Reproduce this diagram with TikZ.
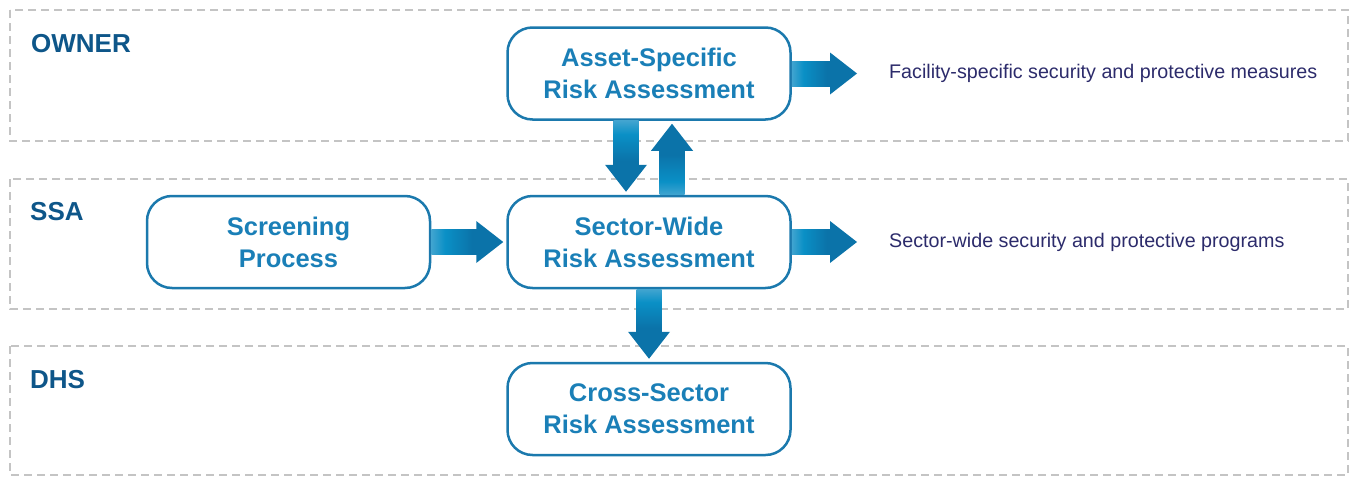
\documentclass[tikz,border=0pt]{standalone}
\usepackage{fontspec}
\setmainfont{Liberation Sans}

\definecolor{lanegray}{HTML}{C4C4C4}
\definecolor{labelblue}{HTML}{0E5689}
\definecolor{boxblue}{HTML}{1B79AD}
\definecolor{boxtext}{HTML}{1A7FB7}
\definecolor{outnavy}{HTML}{2C2B6B}
\definecolor{shaftlight}{HTML}{9DC6E0}
\definecolor{shaftmid}{HTML}{0A90C6}
\definecolor{shaftdark}{HTML}{0B73A9}

\pgfdeclarehorizontalshading{shaftfade}{100bp}{color(0bp)=(shaftlight); color(40bp)=(shaftmid); color(70bp)=(shaftdark); color(100bp)=(shaftdark)}

\newcommand\rtblock[2]{%
  \shade[shading=shaftfade] ([yshift=-12.5]#1) rectangle ([xshift=-26.5,yshift=12.5]#2);
  \fill[shaftdark] ([xshift=-27,yshift=21]#2) -- (#2) -- ([xshift=-27,yshift=-21]#2) -- cycle;}
\newcommand\dnblock[2]{%
  \shade[shading=shaftfade, shading angle=-90] ([xshift=-12.5]#1) rectangle ([xshift=12.5,yshift=26.5]#2);
  \fill[shaftdark] ([xshift=-21,yshift=27]#2) -- (#2) -- ([xshift=21,yshift=27]#2) -- cycle;}
\newcommand\upblock[2]{%
  \shade[shading=shaftfade, shading angle=90] ([xshift=-12.5]#1) rectangle ([xshift=12.5,yshift=-26.5]#2);
  \fill[shaftdark] ([xshift=-21,yshift=-27]#2) -- (#2) -- ([xshift=21,yshift=-27]#2) -- cycle;}

\begin{document}
\begin{tikzpicture}[x=1pt,y=-1pt,
    lane/.style={draw=lanegray, line width=2.5pt, dash pattern=on 8pt off 5pt},
    lanelabel/.style={anchor=base west, inner sep=0pt, text=labelblue, font=\bfseries\fontsize{26}{30}\selectfont},
    procbox/.style={draw=boxblue, line width=2.5pt, rounded corners=25pt, minimum width=283pt, minimum height=92pt,
      align=center, inner sep=0pt, text=boxtext, font=\bfseries\fontsize{25.5}{32}\selectfont},
    outtext/.style={anchor=west, inner sep=0pt, text=outnavy, font=\fontsize{19.7}{22}\selectfont}]
    \useasboundingbox (0,0) rectangle (1353,477);

    \draw[lane] (10,10) rectangle (1348,141);
    \draw[lane] (10,179) rectangle (1348,309);
    \draw[lane] (10,346) rectangle (1348,475);

    \node[lanelabel] (owner) at (31,52) {OWNER};
    \node[lanelabel] (ssa) at (30,220) {SSA};
    \node[lanelabel] (dhs) at (30,388) {DHS};

    \node[procbox] (asset) at (649,73.5) {Asset-Specific\\Risk Assessment};
    \node[procbox] (sector) at (649,242) {Sector-Wide\\Risk Assessment};
    \node[procbox] (screen) at (288.5,242) {Screening\\Process};
    \node[procbox] (cross) at (649,409) {Cross-Sector\\Risk Assessment};

    \node[outtext] (facility) at (889,73.5) {Facility-specific security and protective measures};
    \node[outtext] (programs) at (889,242) {Sector-wide security and protective programs};

    \coordinate (factip) at ([xshift=-32]facility.west);
    \coordinate (progtip) at ([xshift=-32]programs.west);
    \coordinate (sectip) at ([xshift=-3]sector.west);
    \coordinate (downtail) at ([xshift=-23]asset.south);
    \coordinate (downtip) at ([xshift=-23,yshift=3]sector.north);
    \coordinate (uptail) at ([xshift=23]sector.north);
    \coordinate (uptip) at ([xshift=23,yshift=-3]asset.south);
    \coordinate (crosstip) at ([yshift=3]cross.north);

    \rtblock{asset.east}{factip}
    \rtblock{sector.east}{progtip}
    \rtblock{screen.east}{sectip}
    \dnblock{downtail}{downtip}
    \upblock{uptail}{uptip}
    \dnblock{sector.south}{crosstip}
\end{tikzpicture}
\end{document}
